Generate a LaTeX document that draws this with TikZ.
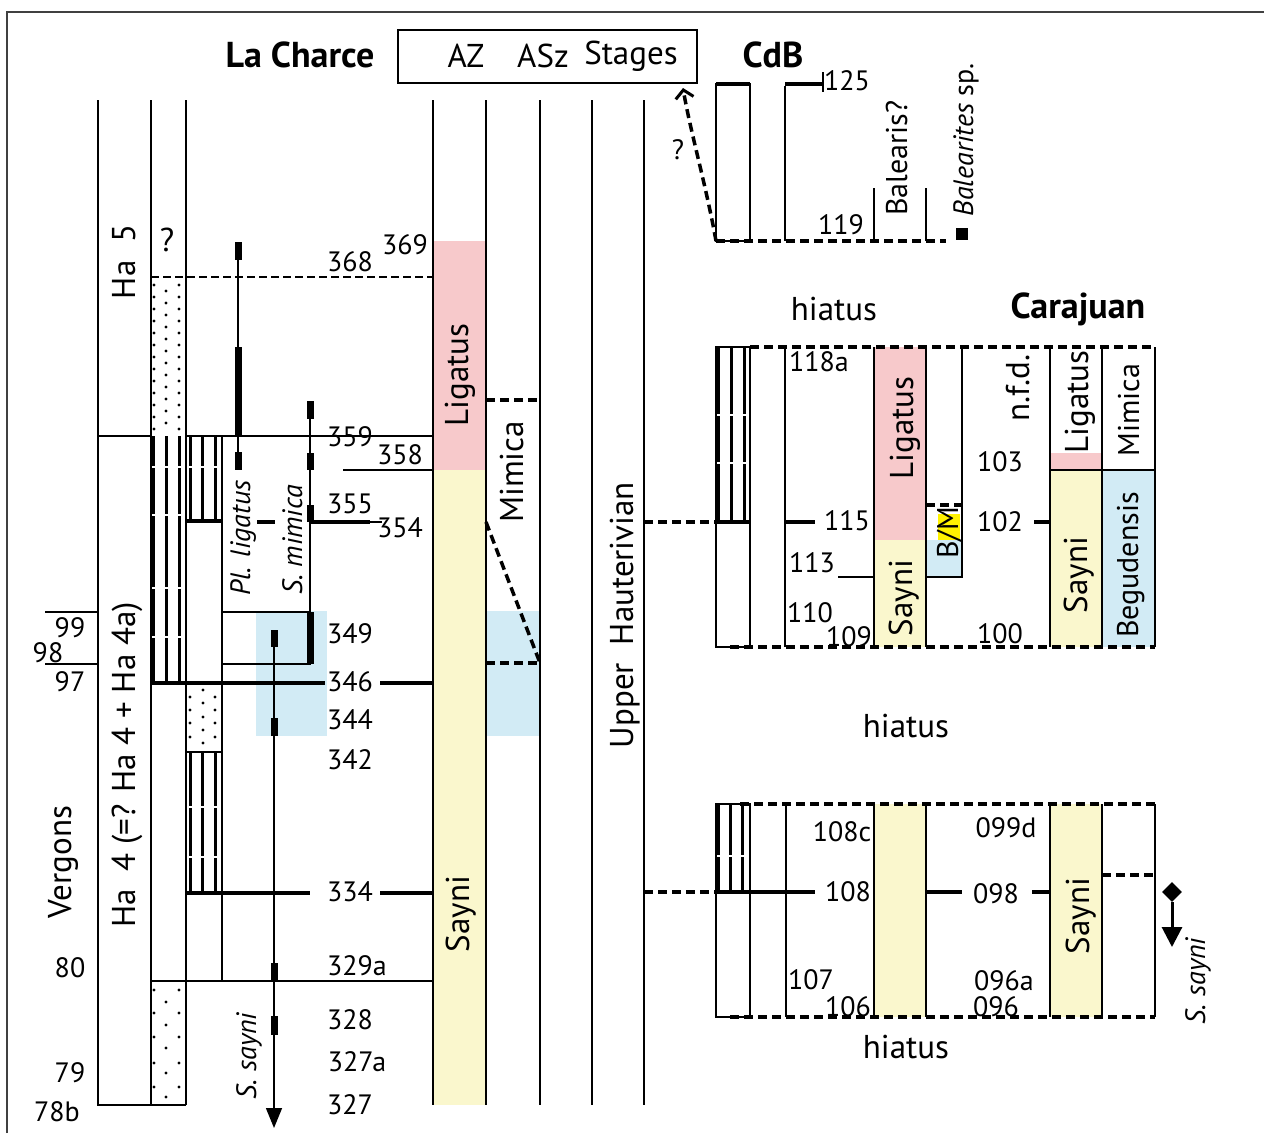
\documentclass[tikz,border=0pt]{standalone}
\usepackage{fontspec}
\setmainfont{PT Sans}
\usetikzlibrary{arrows.meta,shapes.geometric}
\definecolor{pk}{HTML}{F7C9CB}
\definecolor{yl}{HTML}{FAF7CD}
\definecolor{bl}{HTML}{D2EBF5}
\definecolor{hy}{HTML}{FFF200}
\begin{document}
\begin{tikzpicture}[x=1pt,y=-1pt,
  num/.style={font=\fontsize{28}{30}\selectfont, inner sep=0pt},
  lbl/.style={font=\fontsize{33}{36}\selectfont, inner sep=0pt},
  ttl/.style={font=\fontsize{36}{38}\selectfont\bfseries, inner sep=0pt},
  rl/.style={lbl, rotate=90, anchor=base},
  rls/.style={font=\fontsize{30}{32}\selectfont, inner sep=0pt, rotate=90, anchor=base},
  spn/.style={font=\fontsize{28}{30}\selectfont\itshape, rotate=90, anchor=base, inner sep=0pt},
  ln/.style={line width=1.5pt},
  bar/.style={line width=4.5pt},
  rng/.style={line width=7pt},
  hch/.style={line width=3pt},
  brk/.style={white, line width=1.2pt},
  dl/.style={line width=3.5pt, dash pattern=on 9pt off 5pt},
]
\useasboundingbox (0,0) rectangle (1264,1133);
% frame
\draw[line width=2.2pt, black!75] (7,1133) -- (7,12) -- (1264,12);

% ---------- fills ----------
\fill[bl] (256,611) rectangle (327,736);
\fill[pk] (433,241) rectangle (486,470);
\fill[yl] (433,470) rectangle (486,1105);
\fill[bl] (486,611) rectangle (540,736);
\fill[pk] (874,347) rectangle (926,540);
\fill[yl] (874,540) rectangle (926,647);
\fill[bl] (926,540) rectangle (962,577);
\fill[hy] (938,514) rectangle (960,540);
\fill[pk] (1050,453) rectangle (1102,470);
\fill[yl] (1050,470) rectangle (1102,647);
\fill[bl] (1102,470) rectangle (1155,647);
\fill[yl] (874,804) rectangle (926,1017);
\fill[yl] (1050,804) rectangle (1102,1017);

% ---------- header ----------
\node[ttl] (lacharce) at (300,55) {La Charce};
\node[draw, ln, minimum width=299pt, minimum height=53pt, inner sep=0pt] (hdr) at (547.5,56.5) {};
\node[lbl] (az) at (466,56) {AZ};
\node[lbl] (asz) at (543,56) {ASz};
\node[lbl] (stg) at (631,56) {Stages};
\node[ttl] (cdb) at (773,55) {CdB};

% ---------- La Charce frame lines ----------
\draw[ln] (98,100) -- (98,1105) -- (186,1105);
\draw[ln] (151,100) -- (151,1105);
\draw[ln] (186,100) -- (186,1105);
\foreach \xx in {433,486,540,592,644} \draw[ln] (\xx,100) -- (\xx,1105);
\draw[ln] (98,436) -- (151,436);
\draw[ln] (186,436) -- (433,436);
\draw[ln] (343,470) -- (433,470);
\draw[ln] (222,436) -- (222,981);
\draw[ln] (151,981) -- (433,981);
\draw[ln] (186,752) -- (222,752);
\draw[ln] (222,612) rectangle (310,664);
\draw[ln] (45,612) -- (98,612);
\draw[ln] (45,664) -- (98,664);
\draw[line width=2.6pt, dash pattern=on 8pt off 4pt] (151,277) -- (433,277);

% hatching
\foreach \xx in {153,166,179} \draw[hch] (\xx,436) -- (\xx,683);
\foreach \xx in {190,202,215} \draw[hch] (\xx,436) -- (\xx,521);
\foreach \xx in {190,202,215} \draw[hch] (\xx,752) -- (\xx,893);
\foreach \yy in {467,515,588,637} \draw[brk] (152,\yy) -- (185,\yy);
\draw[brk] (187,467) -- (221,467);
\foreach \yy in {807,857} \draw[brk] (187,\yy) -- (221,\yy);

% stipple
\foreach \yy in {285,297,...,431} {\fill (154,\yy) circle[radius=1.7pt]; \fill (179,\yy) circle[radius=1.7pt];}
\foreach \yy in {291,303,...,431} {\fill (166,\yy) circle[radius=1.7pt];}
\foreach \yy in {697,710,723,737} {\fill (190,\yy) circle[radius=1.7pt]; \fill (215,\yy) circle[radius=1.7pt];}
\foreach \yy in {690,703,717,730,743} {\fill (203,\yy) circle[radius=1.7pt];}
\foreach \yy in {990,1013,1037,1063,1087} {\fill (154,\yy) circle[radius=1.7pt]; \fill (179,\yy) circle[radius=1.7pt];}
\foreach \yy in {1002,1025,1048,1073,1097} {\fill (166,\yy) circle[radius=1.7pt];}

% bars
\draw[bar] (186,521) -- (222,521);
\draw[bar] (151,683) -- (325,683);
\draw[bar] (380,683) -- (433,683);
\draw[bar] (186,893) -- (310,893);
\draw[bar] (380,893) -- (433,893);
\draw[bar] (257,522) -- (275,522);
\draw[bar] (310,522) -- (370,522);
\draw[line width=2.8pt] (370,522) -- (382,522);

% species ranges
\draw[ln] (238,242) -- (238,470);
\foreach \a/\b in {242/260,347/436,452/470} \draw[rng] (238,\a) -- (238,\b);
\draw[ln] (310,401) -- (310,612);
\foreach \a/\b in {401/419,453/470,505/522,612/664} \draw[rng] (310,\a) -- (310,\b);
\coordinate (saytop) at (274,630);
\coordinate (saybot) at (274,1128);
\draw[ln, -{Triangle[length=20pt,width=16pt]}] (saytop) -- (saybot);
\foreach \a/\b in {630/647,718/736,963/981,1016/1035} \draw[rng] (274,\a) -- (274,\b);

% ASz dashed
\draw[dl] (486,400) -- (540,400);
\draw[dl] (486,522) -- (540,663);
\draw[dl] (486,663) -- (540,663);

% connectors to the right
\draw[dl] (644,522) -- (716,522);
\draw[dl] (644,892) -- (716,892);

% ---------- La Charce labels ----------
\node[rl] (ha5) at (135,262) {Ha~~5};
\node[rl] (ha4) at (135,765) {Ha~~4 (=? Ha 4 + Ha 4a)};
\node[lbl] (qm) at (167,240) {?};
\node[rl] (verg) at (71,862) {Vergons};
\node[num] (n99) at (70,628) {99};
\node[num] (n98) at (48,653) {98};
\node[num] (n97) at (70,682) {97};
\node[num] (n80) at (70,968) {80};
\node[num] (n79) at (70,1073) {79};
\node[num] (n78b) at (57,1112) {78b};
\node[spn] (plig) at (250,538) {Pl. ligatus};
\node[spn] (smim) at (302,540) {S. mimica};
\node[spn] (ssay) at (256,1056) {S. sayni};
\node[num] (l369) at (405,245) {369};
\node[num] (l368) at (350,262) {368};
\node[num] (l359) at (350,437) {359};
\node[num] (l358) at (400,455) {358};
\node[num] (l355) at (350,504) {355};
\node[num] (l354) at (400,528) {354};
\node[num] (l349) at (350,634) {349};
\node[num] (l346) at (350,682) {346};
\node[num] (l344) at (350,720) {344};
\node[num] (l342) at (350,760) {342};
\node[num] (l334) at (350,892) {334};
\node[num] (l329a) at (357,966) {329a};
\node[num] (l328) at (350,1020) {328};
\node[num] (l327a) at (357,1062) {327a};
\node[num] (l327) at (350,1105) {327};
\node[rl] (lig1) at (468,375) {Ligatus};
\node[rl] (mim1) at (523,472) {Mimica};
\node[rl] (say1) at (469,914) {Sayni};
\node[rl] (uh) at (633,615) {Upper~~Hauterivian};

% ---------- CdB ----------
\draw[ln] (716,84) rectangle (750,241);
\draw[bar] (716,84) -- (750,84);
\draw[ln] (785,86) -- (785,241);
\draw[bar] (785,84) -- (823,84);
\draw[line width=2.2pt] (823,72) -- (823,92);
\node[num] (c125) at (847,81) {125};
\node[num] (c119) at (841,225) {119};
\draw[ln] (874,188) -- (874,241);
\draw[ln] (926,188) -- (926,241);
\draw[dl] (716,241) -- (946,241);
\node[fill, minimum size=12pt, inner sep=0pt] (sq) at (962,234) {};
\node[rls] (balq) at (907,158) {Balearis?};
\node[spn] (balsp) at (973,140) {Balearites \upshape sp.};
\coordinate (arrS) at (716,241);
\coordinate (arrE) at (683,88);
\draw[dl, -{Straight Barb[length=8pt,width=18pt,line width=3pt]}] (arrS) .. controls (706,185) and (690,130) .. (arrE);
\node[num] (cq) at (678,150) {?};

% ---------- Carajuan upper ----------
\node[lbl] (hia1) at (834,309) {hiatus};
\node[ttl] (caraj) at (1078,309) {Carajuan};
\draw[ln] (716,347) rectangle (750,647);
\foreach \xx in {718,731,744} \draw[hch] (\xx,347) -- (\xx,522);
\foreach \yy in {415,463} \draw[brk] (717,\yy) -- (749,\yy);
\draw[bar] (716,522) -- (750,522);
\draw[ln] (785,347) -- (785,647);
\draw[bar] (785,522) -- (815,522);
\draw[ln] (838,577) -- (874,577);
\draw[ln] (874,347) -- (874,647);
\draw[ln] (926,347) -- (926,647);
\draw[ln] (962,347) -- (962,577) -- (926,577);
\draw[dl] (926,505) -- (962,505);
\draw[bar] (1034,522) -- (1050,522);
\foreach \xx in {1050,1102,1155} \draw[ln] (\xx,347) -- (\xx,647);
\draw[ln] (1050,470) -- (1155,470);
\draw[dl] (750,347) -- (1155,347);
\draw[dl] (730,647) -- (1155,647);
\node[num] (u118a) at (819,362) {118a};
\node[num] (u115) at (847,521) {115};
\node[num] (u113) at (812,563) {113};
\node[num] (u110) at (810,613) {110};
\node[num] (u109) at (849,637) {109};
\node[num] (u103) at (1000,462) {103};
\node[num] (u102) at (1000,522) {102};
\node[num] (u100) at (1000,634) {100};
\node[rl] (lig2) at (913,428) {Ligatus};
\node[rl] (say2) at (912,598) {Sayni};
\node[rls] (bm) at (958,533) {B/M};
\node[rl] (nfd) at (1029,388) {n.f.d.};
\node[rl] (lig3) at (1088,402) {Ligatus};
\node[rls] (mim3) at (1139,410) {Mimica};
\node[rl] (say3) at (1087,575) {Sayni};
\node[rls] (beg) at (1138,565) {Begudensis};

\node[lbl] (hia2) at (906,726) {hiatus};

% ---------- Carajuan lower ----------
\draw[ln] (716,804) rectangle (750,1017);
\foreach \xx in {718,730,742} \draw[hch] (\xx,804) -- (\xx,892);
\draw[brk] (717,856) -- (749,856);
\draw[bar] (716,892) -- (815,892);
\draw[ln] (786,804) -- (786,1017);
\draw[ln] (874,804) -- (874,1017);
\draw[ln] (926,804) -- (926,1017);
\draw[bar] (926,892) -- (962,892);
\draw[bar] (1032,892) -- (1050,892);
\foreach \xx in {1050,1102,1155} \draw[ln] (\xx,804) -- (\xx,1017);
\draw[dl] (1102,875) -- (1155,875);
\draw[dl] (740,804) -- (1155,804);
\draw[dl] (730,1017) -- (1155,1017);
\node[num] (d108c) at (842,832) {108c};
\node[num] (d108) at (848,892) {108};
\node[num] (d107) at (811,980) {107};
\node[num] (d106) at (848,1007) {106};
\node[num] (d099d) at (1006,828) {099d};
\node[num] (d098) at (996,894) {098};
\node[num] (d096a) at (1004,981) {096a};
\node[num] (d096) at (996,1007) {096};
\node[rl] (say4) at (1089,916) {Sayni};
\node[diamond, fill, minimum size=20pt, inner sep=0pt] (dia) at (1172,892) {};
\coordinate (diaend) at (1172,947);
\draw[line width=3pt, -{Triangle[length=20pt,width=20pt]}] (dia.south) -- (diaend);
\node[spn] (ssay2) at (1205,981) {S. sayni};
\node[lbl] (hia3) at (906,1047) {hiatus};
\end{tikzpicture}
\end{document}
